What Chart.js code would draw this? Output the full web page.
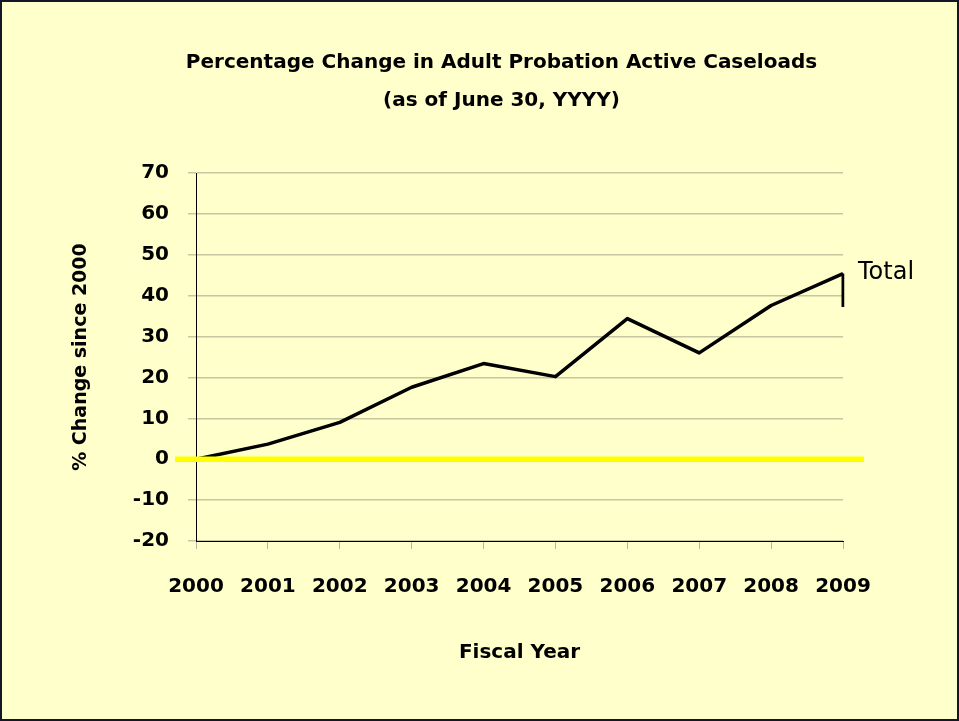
<!DOCTYPE html>
<html>
<head>
<meta charset="utf-8">
<script src="https://cdn.jsdelivr.net/npm/chart.js@4/dist/chart.umd.min.js"></script>
<style>
  html, body { margin: 0; padding: 0; background: #ffffcc; }
  #frame {
    width: 959px; height: 721px; box-sizing: border-box;
    border: 2px solid #14142a; background: #ffffcc;
  }
  canvas { display: block; }
</style>
</head>
<body>
<div id="frame"><canvas id="caseloads" width="955" height="717"></canvas></div>
<script>
// fiscal years and % change since 2000
var years = ["2000","2001","2002","2003","2004","2005","2006","2007","2008","2009"];
var totalChange = [0, 3.7, 9.0, 17.6, 23.4, 20.2, 34.4, 26.0, 37.6, 45.4];
// short leader stroke hanging off the last point
var leaderYears = ["2009", "2009"];
var leaderValues = [45.4, 37.2];
var yTicks = [-20, -10, 0, 10, 20, 30, 40, 50, 60, 70];
var titleLines = ['Percentage Change in Adult Probation Active Caseloads', '(as of June 30, YYYY)'];

var FONT = "'DejaVu Sans', 'Comic Sans MS', sans-serif";
var gridColor = "#c6c6a2";

// yellow zero line across the plot (drawn over the data line)
var zeroLine = {
  id: 'zeroLine',
  afterDatasetsDraw: function(chart) {
    var ctx = chart.ctx, area = chart.chartArea;
    var y = chart.scales.y.getPixelForValue(0);
    ctx.save();
    ctx.strokeStyle = '#ffff00';
    ctx.lineWidth = 5.5;
    ctx.beginPath();
    ctx.moveTo(area.left - 21, y);
    ctx.lineTo(area.right + 21, y);
    ctx.stroke();
    ctx.restore();
  }
};

// "Total" series label next to the last point, plus the two-line title
var labels = {
  id: 'labels',
  afterDraw: function(chart) {
    var pts = chart.getDatasetMeta(0).data;
    var last = pts[pts.length - 1];
    var ctx = chart.ctx;
    ctx.save();
    ctx.fillStyle = '#000';
    ctx.textBaseline = 'middle';
    ctx.font = "24px " + FONT;
    ctx.textAlign = 'left';
    ctx.fillText('Total', last.x + 15, last.y - 1);
    ctx.font = "bold 20px " + FONT;
    ctx.textAlign = 'center';
    var cx = chart.width / 2 + 22;
    ctx.fillText(titleLines[0], cx, 61);
    ctx.fillText(titleLines[1], cx, 99);
    ctx.restore();
  }
};

new Chart(document.getElementById('caseloads'), {
  type: 'line',
  data: {
    labels: years,
    datasets: [{
      label: 'Total',
      data: totalChange,
      borderColor: '#000',
      borderWidth: 3.5,
      pointRadius: 0,
      tension: 0,
      borderJoinStyle: 'round'
    }, {
      label: 'leader',
      data: leaderYears.map(function(x, i) { return {x: x, y: leaderValues[i]}; }),
      borderColor: '#000',
      borderWidth: 3,
      pointRadius: 0
    }]
  },
  options: {
    responsive: false,
    animation: false,
    layout: { padding: { left: 0, right: 114, top: 171, bottom: 0 } },
    plugins: {
      legend: { display: false },
      tooltip: { enabled: false },
      title: { display: false }
    },
    scales: {
      x: {
        grid: { display: true, drawOnChartArea: false, drawTicks: true, tickLength: 8, tickColor: '#b9b9a0' },
        border: { color: '#000', width: 1 },
        ticks: { color: '#000', font: { family: FONT, size: 20, weight: 'bold' }, padding: 26, maxRotation: 0 },
        title: {
          display: true, text: 'Fiscal Year', color: '#000',
          font: { family: FONT, size: 20, weight: 'bold' },
          padding: { top: 0, bottom: 54 }
        },
        afterFit: function(scale) { scale.height = 178; }
      },
      y: {
        min: -20, max: 70,
        afterBuildTicks: function(scale) {
          scale.ticks = yTicks.map(function(v) { return {value: v}; });
        },
        grid: { color: gridColor, lineWidth: 1.5, drawTicks: true, tickLength: 8 },
        border: { color: '#000', width: 1 },
        ticks: { color: '#000', font: { family: FONT, size: 20, weight: 'bold' }, padding: 19 },
        title: {
          display: true, text: '% Change since 2000', color: '#000',
          font: { family: FONT, size: 19, weight: 'bold' },
          padding: { top: 68, bottom: 0 }
        },
        afterFit: function(scale) { scale.width = 194; }
      }
    }
  },
  plugins: [zeroLine, labels]
});
</script>
</body>
</html>
